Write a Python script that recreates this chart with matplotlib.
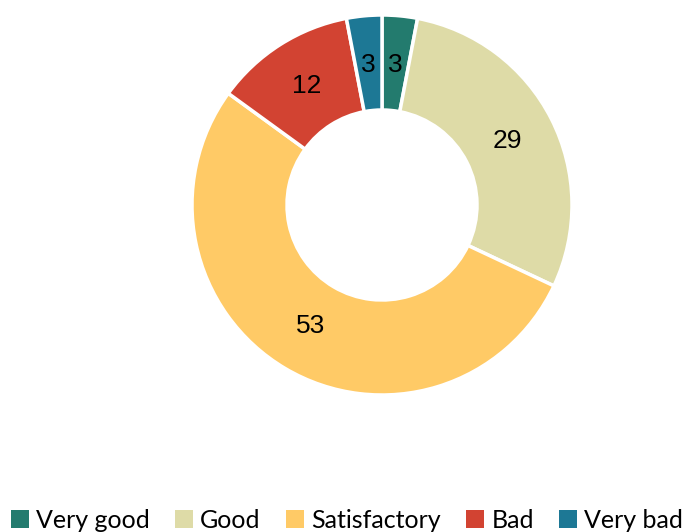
import matplotlib
matplotlib.use("Agg")
import matplotlib.pyplot as plt
from matplotlib.patches import Patch

categories = ["Very good", "Good", "Satisfactory", "Bad", "Very bad"]
values = [3, 29, 53, 12, 3]
colors = ["#237B6E", "#DEDBA7", "#FFCA66", "#D24332", "#1D7895"]

fig = plt.figure(figsize=(6.83, 5.32), dpi=100)
R = 190
cx, cy = 382, 532 - 205
ax = fig.add_axes([(cx - R) / 683, (cy - R) / 532, 2 * R / 683, 2 * R / 532])
wedges, texts = ax.pie(values, colors=colors, startangle=90, counterclock=False,
                       radius=1.0, labels=[str(v) for v in values], labeldistance=0.74,
                       wedgeprops=dict(width=0.5, edgecolor="white", linewidth=2.5),
                       textprops=dict(fontsize=19, family="Liberation Sans", color="black"))
for t in texts:
    t.set_horizontalalignment("center")
    t.set_verticalalignment("center")
ax.set_xlim(-1, 1)
ax.set_ylim(-1, 1)
ax.set_aspect("equal")
ax.axis("off")

handles = [Patch(facecolor=c, edgecolor="none") for c in colors]
fig.legend(handles, categories, loc="lower center", bbox_to_anchor=(0.508, -0.042), ncol=5,
           frameon=False, prop=dict(family="Lato", size=18),
           handlelength=0.72, handleheight=0.72, handletextpad=0.3, columnspacing=1.0)

fig.savefig("out.png", dpi=100)
